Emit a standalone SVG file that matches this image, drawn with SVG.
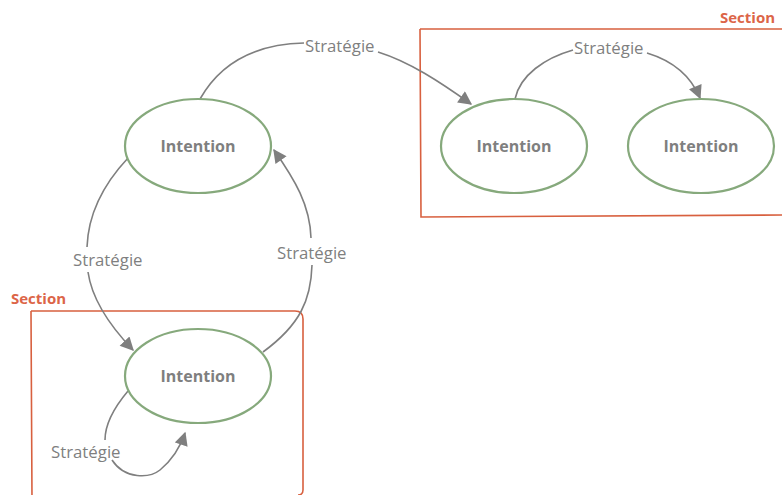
<svg xmlns="http://www.w3.org/2000/svg" width="782" height="495" viewBox="0 0 782 495">
<defs>
<marker id="ah" viewBox="0 0 10 10" refX="9" refY="5" markerWidth="9" markerHeight="8.5" markerUnits="strokeWidth" orient="auto">
<path d="M0,0 L10,5 L0,10 Z" fill="#7f7f7f"/>
</marker>
</defs>
<style>
.sec{fill:none;stroke:#d8603f;stroke-width:1.6}
.seclbl{font-family:"Open Sans","Noto Sans",sans-serif;font-weight:bold;font-size:15px;fill:#dc6548}
.node{fill:#fff;stroke:#86a97c;stroke-width:2.2}
.nlbl{font-family:"Open Sans","Noto Sans",sans-serif;font-weight:bold;font-size:16px;fill:#7f7f7f;text-anchor:middle;dominant-baseline:central}
.edge{fill:none;stroke:#7f7f7f;stroke-width:1.6}
.elbl{font-family:"Open Sans","Noto Sans",sans-serif;font-size:16.8px;fill:#7f7f7f;dominant-baseline:central}
</style>
<rect width="782" height="495" fill="#fff"/>
<g id="section-top">
<path class="sec" d="M420,29 L790,29 M420,29 L421,217 L790,215"/>
<text class="seclbl" x="720" y="23">Section</text>
</g>
<g id="section-bottom">
<path class="sec" d="M31,311 L295,311 Q303,311 303,319 L303,490 Q303,495 298,495 M31,311 L32,500"/>
<text class="seclbl" x="11" y="304">Section</text>
</g>
<g id="connectors">
<path class="edge" d="M200,99 C222,60 260,44 304,43"/>
<path class="edge" marker-end="url(#ah)" d="M378,52 C410,62 440,82 471,104"/>
<path class="edge" d="M515,99 C520,75 545,58 573,50"/>
<path class="edge" marker-end="url(#ah)" d="M647,53 C670,60 690,74 700,98"/>
<path class="edge" d="M128,158 C98,190 88,220 87,247"/>
<path class="edge" marker-end="url(#ah)" d="M88,272 C92,300 110,326 133,350"/>
<path class="edge" d="M263,352 C300,325 311,300 312,265"/>
<path class="edge" marker-end="url(#ah)" d="M311,238 C310,205 295,180 274,150"/>
<path class="edge" d="M128,391 C112,410 105,425 105,440"/>
<path class="edge" marker-end="url(#ah)" d="M112,460 C125,480 150,478 160,470 C172,460 180,448 185,433"/>
<text class="elbl" x="305" y="45">Stratégie</text>
<text class="elbl" x="574" y="47">Stratégie</text>
<text class="elbl" x="73" y="259">Stratégie</text>
<text class="elbl" x="277" y="252">Stratégie</text>
<text class="elbl" x="51" y="451">Stratégie</text>
</g>
<g id="node-1">
<ellipse class="node" cx="198" cy="146" rx="73" ry="47"/>
<text class="nlbl" x="198" y="146">Intention</text>
</g>
<g id="node-2">
<ellipse class="node" cx="198" cy="376" rx="73" ry="47"/>
<text class="nlbl" x="198" y="376">Intention</text>
</g>
<g id="node-3">
<ellipse class="node" cx="514" cy="146" rx="73" ry="47"/>
<text class="nlbl" x="514" y="146">Intention</text>
</g>
<g id="node-4">
<ellipse class="node" cx="701" cy="146" rx="73" ry="47"/>
<text class="nlbl" x="701" y="146">Intention</text>
</g>
</svg>
